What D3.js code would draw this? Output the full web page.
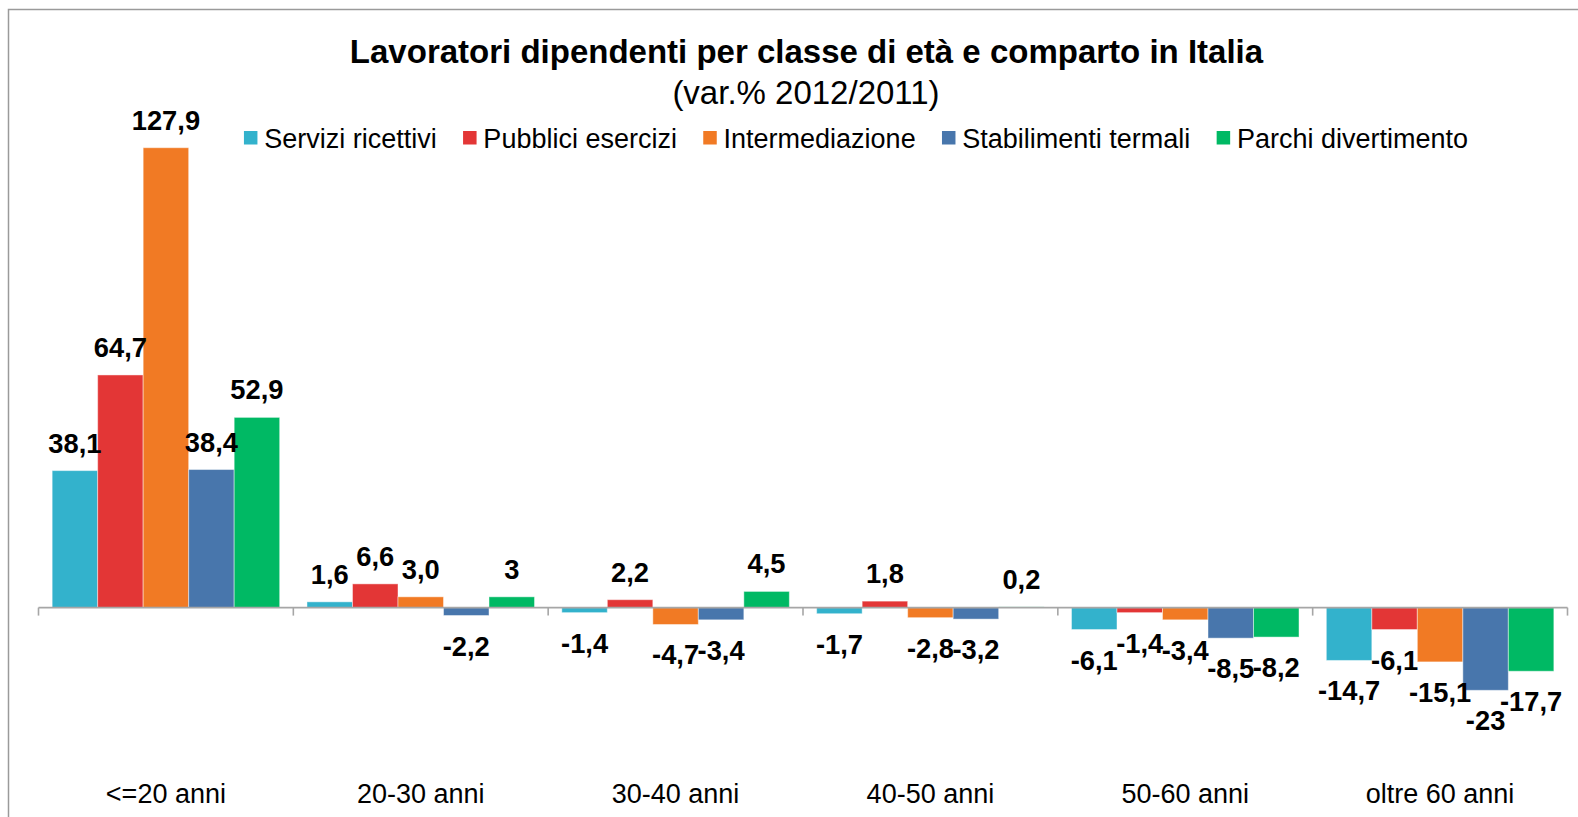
<!DOCTYPE html>
<html>
<head>
<meta charset="utf-8">
<script src="https://cdn.jsdelivr.net/npm/d3@7"></script>
<style>
  html, body { margin: 0; padding: 0; background: #fff; }
  svg { display: block; font-family: "Liberation Sans", Arial, sans-serif; }
</style>
</head>
<body>
<svg id="chart" width="1578" height="817"></svg>
<script>
const categories = ["<=20 anni", "20-30 anni", "30-40 anni", "40-50 anni", "50-60 anni", "oltre 60 anni"];
const seriesNames = ["Servizi ricettivi", "Pubblici esercizi", "Intermediazione", "Stabilimenti termali", "Parchi divertimento"];
const seriesColors = ["#33B2CC", "#E33636", "#F17A24", "#4876AC", "#00B964"];

const serviziRicettivi    = [38.1, 1.6, -1.4, -1.7, -6.1, -14.7];
const pubbliciEsercizi    = [64.7, 6.6, 2.2, 1.8, -1.4, -6.1];
const intermediazione     = [127.9, 3.0, -4.7, -2.8, -3.4, -15.1];
const stabilimentiTermali = [38.4, -2.2, -3.4, -3.2, -8.5, -23];
const parchiDivertimento  = [52.9, 3, 4.5, 0.2, -8.2, -17.7];

const serviziLabels      = ["38,1", "1,6", "-1,4", "-1,7", "-6,1", "-14,7"];
const pubbliciLabels     = ["64,7", "6,6", "2,2", "1,8", "-1,4", "-6,1"];
const intermedLabels     = ["127,9", "3,0", "-4,7", "-2,8", "-3,4", "-15,1"];
const stabilimentiLabels = ["38,4", "-2,2", "-3,4", "-3,2", "-8,5", "-23"];
const parchiLabels       = ["52,9", "3", "4,5", "0,2", "-8,2", "-17,7"];

const titleText = "Lavoratori dipendenti per classe di età e comparto in Italia";
const subtitleText = "(var.% 2012/2011)";

const allValues = [serviziRicettivi, pubbliciEsercizi, intermediazione, stabilimentiTermali, parchiDivertimento];
const allLabels = [serviziLabels, pubbliciLabels, intermedLabels, stabilimentiLabels, parchiLabels];

const svg = d3.select("#chart");

// frame
svg.append("path")
  .attr("d", "M8.5,817 L8.5,9.5 L1578,9.5")
  .attr("fill", "none").attr("stroke", "#9a9a9a").attr("stroke-width", 1.5);

// scales
const x0 = d3.scaleBand().domain(categories).range([38.5, 1567.5]).paddingInner(0).paddingOuter(0);
const x1 = d3.scaleBand().domain(seriesNames).range([0, x0.bandwidth()]).paddingInner(0).paddingOuter(0.3);
const y = d3.scaleLinear().domain([-40, 140]).range([607.6 + 40 * 3.5957, 607.6 - 140 * 3.5957]);

// data rows
const rows = [];
categories.forEach((c, ci) => {
  seriesNames.forEach((s, si) => {
    rows.push({ cat: c, series: s, si, value: allValues[si][ci], label: allLabels[si][ci] });
  });
});

// bars
svg.append("g").selectAll("rect").data(rows).join("rect")
  .attr("x", d => x0(d.cat) + x1(d.series))
  .attr("width", x1.bandwidth())
  .attr("y", d => y(Math.max(0, d.value)))
  .attr("height", d => Math.abs(y(d.value) - y(0)))
  .attr("fill", d => seriesColors[d.si])
  .attr("stroke", "rgba(255,255,255,0.45)")
  .attr("stroke-width", 1);

// axis
const xAxis = svg.append("g").attr("transform", `translate(0,${y(0)})`);
xAxis.append("line")
  .attr("x1", x0.range()[0]).attr("x2", x0.range()[1])
  .attr("y1", 0).attr("y2", 0)
  .attr("stroke", "#a6a6a6").attr("stroke-width", 1.6);
const tickPositions = categories.map(c => x0(c)).concat([x0.range()[1]]);
xAxis.selectAll("line.tick").data(tickPositions).join("line")
  .attr("class", "tick")
  .attr("x1", d => d).attr("x2", d => d)
  .attr("y1", 0).attr("y2", 8)
  .attr("stroke", "#a6a6a6").attr("stroke-width", 1.6);

// category labels
svg.append("g").selectAll("text").data(categories).join("text")
  .attr("x", d => x0(d) + x0.bandwidth() / 2)
  .attr("y", 803)
  .attr("text-anchor", "middle")
  .attr("font-size", 27)
  .attr("fill", "#000")
  .text(d => d);

// data labels
svg.append("g").selectAll("text").data(rows).join("text")
  .attr("x", d => x0(d.cat) + x1(d.series) + x1.bandwidth() / 2)
  .attr("y", d => d.value >= 0 ? y(d.value) - 18 : y(d.value) + 40)
  .attr("text-anchor", "middle")
  .attr("font-size", 27.3)
  .attr("font-weight", "bold")
  .attr("fill", "#000")
  .text(d => d.label);

// title
svg.append("text")
  .attr("x", 806.5).attr("y", 63.3)
  .attr("text-anchor", "middle")
  .attr("font-size", 33).attr("font-weight", "bold")
  .attr("fill", "#000")
  .text(titleText);
svg.append("text")
  .attr("x", 806).attr("y", 104)
  .attr("text-anchor", "middle")
  .attr("font-size", 33)
  .attr("fill", "#000")
  .text(subtitleText);

// legend
const legend = svg.append("g");
const items = legend.selectAll("g").data(seriesNames).join("g");
items.append("rect")
  .attr("width", 13.5).attr("height", 13.5)
  .attr("y", 131)
  .attr("fill", (d, i) => seriesColors[i]);
items.append("text")
  .attr("x", 20.3).attr("y", 148)
  .attr("font-size", 27)
  .attr("fill", "#000")
  .text(d => d);
let cx = 0;
const gap = 26.3;
const offsets = [];
items.each(function () {
  offsets.push(cx);
  const w = d3.select(this).select("text").node().getComputedTextLength();
  cx += 20.3 + w + gap;
});
const totalW = cx - gap;
const startX = 856 - totalW / 2;
items.attr("transform", (d, i) => `translate(${startX + offsets[i]},0)`);
</script>
</body>
</html>
